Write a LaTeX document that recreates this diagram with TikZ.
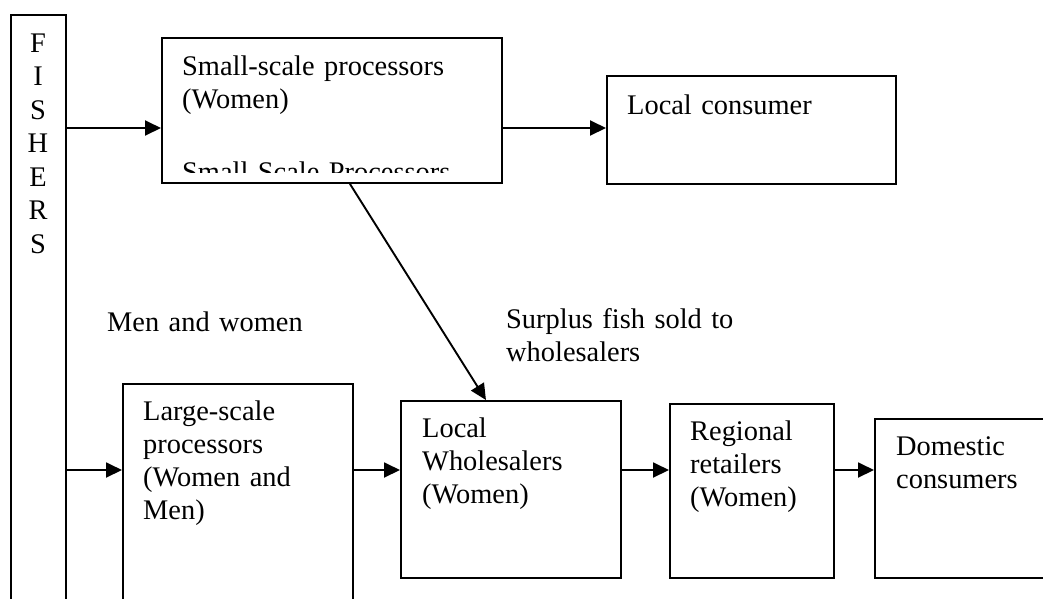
\documentclass[tikz,border=0pt]{standalone}
\usepackage{fontspec}
\setmainfont{Liberation Serif}
\usetikzlibrary{arrows.meta}
\tikzset{
  box/.style={draw,line width=1.9pt,inner sep=0pt,anchor=north west},
  lbl/.style={anchor=base west,inner sep=0pt,align=left,text width=320pt,font=\fontsize{28.4}{33}\selectfont},
  flow/.style={-{Triangle[length=16pt,width=15pt]},line width=1.9pt}
}
\begin{document}
\begin{tikzpicture}[x=1pt,y=-1pt]
\useasboundingbox (0,0) rectangle (1043,598);
\clip (0,0) rectangle (1043,598);
\node[box,minimum width=55pt,minimum height=600pt] (fishers) at (10,14) {};
\node[box,minimum width=340pt,minimum height=145pt] (ssp) at (161,37) {};
\node[box,minimum width=289pt,minimum height=108pt] (lcons) at (606,75) {};
\node[box,minimum width=230pt,minimum height=240pt] (lsp) at (122,383) {};
\node[box,minimum width=220pt,minimum height=177pt] (lwhole) at (400,400) {};
\node[box,minimum width=164pt,minimum height=174pt] (rret) at (669,403) {};
\node[box,minimum width=190pt,minimum height=159pt] (dcons) at (874,418) {};

\node[lbl,align=center,anchor=base,text width=30pt,font=\fontsize{28.4}{33.5}\selectfont] (fisherstxt) at (38,52) {F\\I\\S\\H\\E\\R\\S};
\node[lbl] (ssptxt) at (182,75) {Small-scale processors\\(Women)};
\begin{scope}
\clip (ssp.north west) rectangle (501,172);
\node[lbl] (ssptxt2) at (182,181) {Small-Scale Processors};
\end{scope}
\node[lbl] (lconstxt) at (627,114) {Local consumer};
\node[lbl] (mwtxt) at (107,331) {Men and women};
\node[lbl] (surplus) at (506,328) {Surplus fish sold to\\wholesalers};
\node[lbl] (lsptxt) at (143,420) {Large-scale\\processors\\(Women and\\Men)};
\node[lbl] (lwholetxt) at (422,437) {Local\\Wholesalers\\(Women)};
\node[lbl] (rrettxt) at (690,440) {Regional\\retailers\\(Women)};
\node[lbl] (dconstxt) at (896,455) {Domestic\\consumers};

\coordinate (top) at (0,128);
\coordinate (row) at (0,470);
\draw[flow] (fishers.east |- top) -- (ssp.west |- top);
\draw[flow] (ssp.east |- top) -- (lcons.west |- top);
\draw[flow] ([xshift=18pt]ssp.south) -- ([xshift=-25pt]lwhole.north);
\draw[flow] (fishers.east |- row) -- (lsp.west |- row);
\draw[flow] (lsp.east |- row) -- (lwhole.west |- row);
\draw[flow] (lwhole.east |- row) -- (rret.west |- row);
\draw[flow] (rret.east |- row) -- (dcons.west |- row);
\end{tikzpicture}
\end{document}
